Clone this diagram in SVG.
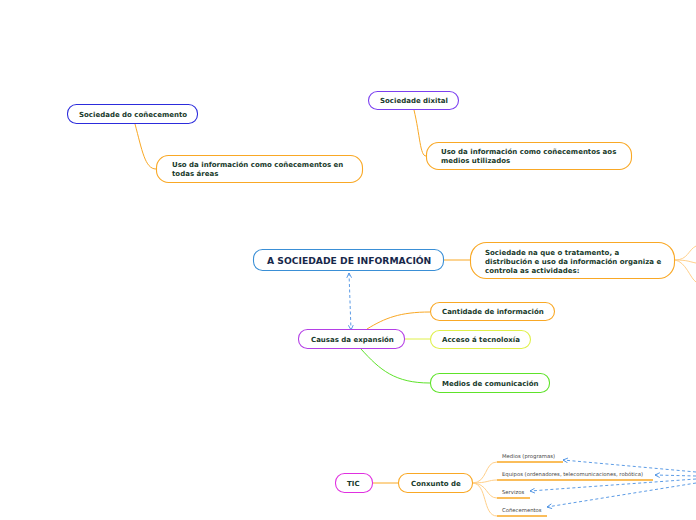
<svg xmlns="http://www.w3.org/2000/svg" width="696" height="520" viewBox="0 0 696 520">
<defs>
<style>
.t{font-family:"DejaVu Sans",Verdana,sans-serif;font-weight:bold;font-size:7px;fill:#183a2b}
.s{font-family:"DejaVu Sans",Verdana,sans-serif;font-size:5.3px;fill:#444}
.n{fill:#fff;stroke-width:1.1}
.c{fill:none;stroke-width:1}
.d{fill:none;stroke:#4a90e2;stroke-width:0.9;stroke-dasharray:3,2.5}
</style>
<marker id="ah" viewBox="0 0 10 10" refX="9" refY="5" markerWidth="6" markerHeight="6" orient="auto-start-reverse" markerUnits="userSpaceOnUse">
<path d="M1,1 L9,5 L1,9" fill="none" stroke="#4a90e2" stroke-width="1.5"/>
</marker>
</defs>
<rect width="696" height="520" fill="#fff"/>
<g id="connectors">
<path class="c" stroke="#f9a825" d="M135,124 C142,150 145,169 156,169"/>
<path class="c" stroke="#f9a825" d="M414,110 C420,135 420,156 426,156"/>
<path class="c" stroke="#f9a825" d="M444,260 L470,260"/>
<path class="c" stroke="#ffd08a" d="M675,260 C688,260 688,250 696,246 M675,260 C688,260 690,262 696,263 M675,260 C686,262 690,278 696,282"/>
<path class="d" marker-start="url(#ah)" marker-end="url(#ah)" d="M349,273 L351,330"/>
<path class="c" stroke="#f9a825" d="M367,329 C385,318 400,312 430,312"/>
<path class="c" stroke="#dff04a" d="M405,339 L430,339"/>
<path class="c" stroke="#5ee32a" d="M361,349 C380,370 395,383 430,383"/>
<path class="c" stroke="#f9a825" d="M372,483 L398,483"/>
<path class="c" stroke="#ffd08a" d="M472,483 C488,483 484,462 497,462 M472,483 C488,483 488,480 497,480 M472,483 C488,483 486,498 497,498 M472,483 C488,483 482,516 497,516"/>
<path stroke="#f9a825" stroke-width="1.3" d="M497,462 L563,462 M497,480 L653,480 M497,498 L530,498 M497,516 L547,516"/>
<path class="d" marker-end="url(#ah)" d="M696,472 L563,460"/>
<path class="d" marker-end="url(#ah)" d="M696,476 L655,475"/>
<path class="d" marker-end="url(#ah)" d="M696,479 L530,491"/>
<path class="d" marker-end="url(#ah)" d="M696,483 L547,507"/>
</g>
<g id="n-soc-conec">
<rect class="n" stroke="#2c2cdc" x="67.5" y="104.5" width="130" height="19" rx="9"/>
<text class="t" x="79" y="117">Sociedade do coñecemento</text>
</g>
<g id="n-uso1">
<rect class="n" stroke="#f9a825" x="156.5" y="155.5" width="206" height="27" rx="12"/>
<text class="t" x="172" y="167">Uso da información como coñecementos en</text>
<text class="t" x="172" y="176">todas áreas</text>
</g>
<g id="n-soc-dix">
<rect class="n" stroke="#7b3ff0" x="368.5" y="91.5" width="90" height="18" rx="9"/>
<text class="t" x="380" y="103">Sociedade dixital</text>
</g>
<g id="n-uso2">
<rect class="n" stroke="#f9a825" x="426.5" y="142.5" width="205" height="27" rx="12"/>
<text class="t" x="441" y="154">Uso da información como coñecementos aos</text>
<text class="t" x="441" y="163">medios utilizados</text>
</g>
<g id="n-main">
<rect class="n" stroke="#3a8fd6" x="253.5" y="249.5" width="190" height="21" rx="9"/>
<text class="t" x="267" y="264" style="font-size:9.2px;fill:#17284a">A SOCIEDADE DE INFORMACIÓN</text>
</g>
<g id="n-def">
<rect class="n" stroke="#f9a825" x="470.5" y="242.5" width="204" height="36" rx="16"/>
<text class="t" x="485" y="255">Sociedade na que o tratamento, a</text>
<text class="t" x="485" y="264">distribución e uso da información organiza e</text>
<text class="t" x="485" y="273">controla as actividades:</text>
</g>
<g id="n-causas">
<rect class="n" stroke="#b43fe6" x="298.5" y="329.5" width="106" height="19" rx="9"/>
<text class="t" x="311" y="342">Causas da expansión</text>
</g>
<g id="n-cant">
<rect class="n" stroke="#f9a825" x="430.5" y="302.5" width="124" height="18" rx="9"/>
<text class="t" x="442" y="314">Cantidade de información</text>
</g>
<g id="n-acc">
<rect class="n" stroke="#dff04a" x="430.5" y="330.5" width="100" height="18" rx="9"/>
<text class="t" x="442" y="342">Acceso á tecnoloxía</text>
</g>
<g id="n-med">
<rect class="n" stroke="#5ee32a" x="430.5" y="373.5" width="119" height="19" rx="9"/>
<text class="t" x="442" y="386">Medios de comunicación</text>
</g>
<g id="n-tic">
<rect class="n" stroke="#e030e0" x="335.5" y="473.5" width="37" height="19" rx="9"/>
<text class="t" x="347" y="486">TIC</text>
</g>
<g id="n-conx">
<rect class="n" stroke="#f9a825" x="398.5" y="473.5" width="74" height="19" rx="9"/>
<text class="t" x="411" y="486">Conxunto de</text>
</g>
<g id="n-i1"><text class="s" x="502" y="458">Medios (programas)</text></g>
<g id="n-i2"><text class="s" x="502" y="476">Equipos (ordenadores, telecomunicaciones, robótica)</text></g>
<g id="n-i3"><text class="s" x="502" y="494">Servizos</text></g>
<g id="n-i4"><text class="s" x="502" y="512">Coñecementos</text></g>
</svg>
